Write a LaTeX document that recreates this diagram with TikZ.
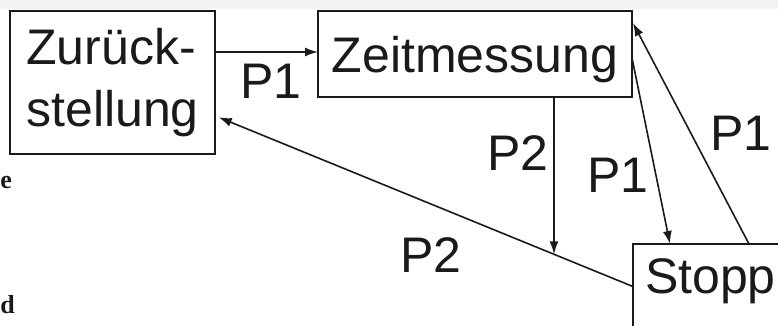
\documentclass[tikz,border=0pt]{standalone}
\usepackage{fontspec}
\setmainfont{Liberation Sans}
\newfontfamily\strayfont{Liberation Serif}
\usetikzlibrary{arrows.meta,calc}
\definecolor{ink}{HTML}{1A1A1A}
\definecolor{band}{HTML}{F3F3F3}
\tikzset{
  box/.style={draw=ink, line width=1.8pt, inner sep=0pt, outer sep=0pt, rectangle,
    font=\fontsize{50}{62}\selectfont, text=ink},
  lbl/.style={inner sep=0pt, outer sep=0pt, font=\fontsize{50}{60}\selectfont, text=ink, anchor=base west},
  arr/.style={draw=ink, line width=1.6pt, -{Latex[length=13pt,width=9pt]}},
  stray/.style={inner sep=0pt, outer sep=0pt, font=\strayfont\bfseries\fontsize{26}{26}\selectfont, text=ink, anchor=base west}
}
\begin{document}
\begin{tikzpicture}[x=1pt,y=-1pt]
\useasboundingbox (0,0) rectangle (778,326);
\clip (0,0) rectangle (778,326);
\fill[band] (0,0) rectangle (778,9);
% boxes
\node[box, minimum width=205pt, minimum height=143pt, align=left] (zur) at (112.5,82.5) {Zurück-\\stellung};
\node[box, minimum width=314pt, minimum height=86pt, text depth=0pt] (zeit) at (475,54) {Zeitmessung};
\node[box, anchor=north west, minimum width=170pt, minimum height=100pt] (stopp) at (633,244) {};
\node[lbl] (stopptxt) at (645,293) {Stopp};
% connectors
\coordinate (j) at ($(stopp.175.3)!0.189!(zur.-18.6)$);
\draw[arr] ([yshift=2pt]zeit.west -| zur.east) -- ([yshift=2pt]zeit.west);
\draw[arr, shorten >=4pt] (stopp.175.3) -- (zur.-18.6);
\draw[arr] (zeit.south -| j) -- (j);
\draw[arr] ($(zeit.east)+(0,4)$) -- ($(stopp.north west)+(37,0)$);
\draw[arr] ($(stopp.north west)+(116,0)$) -- ($(zeit.north east)+(1,12)$);
% labels
\node[lbl] (p1a) at (240,99) {P1};
\node[lbl] (p2a) at (487,170) {P2};
\node[lbl] (p1b) at (587,192) {P1};
\node[lbl] (p1c) at (710,150) {P1};
\node[lbl] (p2b) at (400,272) {P2};
% stray letters at the left edge
\node[stray] (se) at (0.5,188) {e};
\node[stray] (sd) at (0.5,313) {d};
\end{tikzpicture}
\end{document}
